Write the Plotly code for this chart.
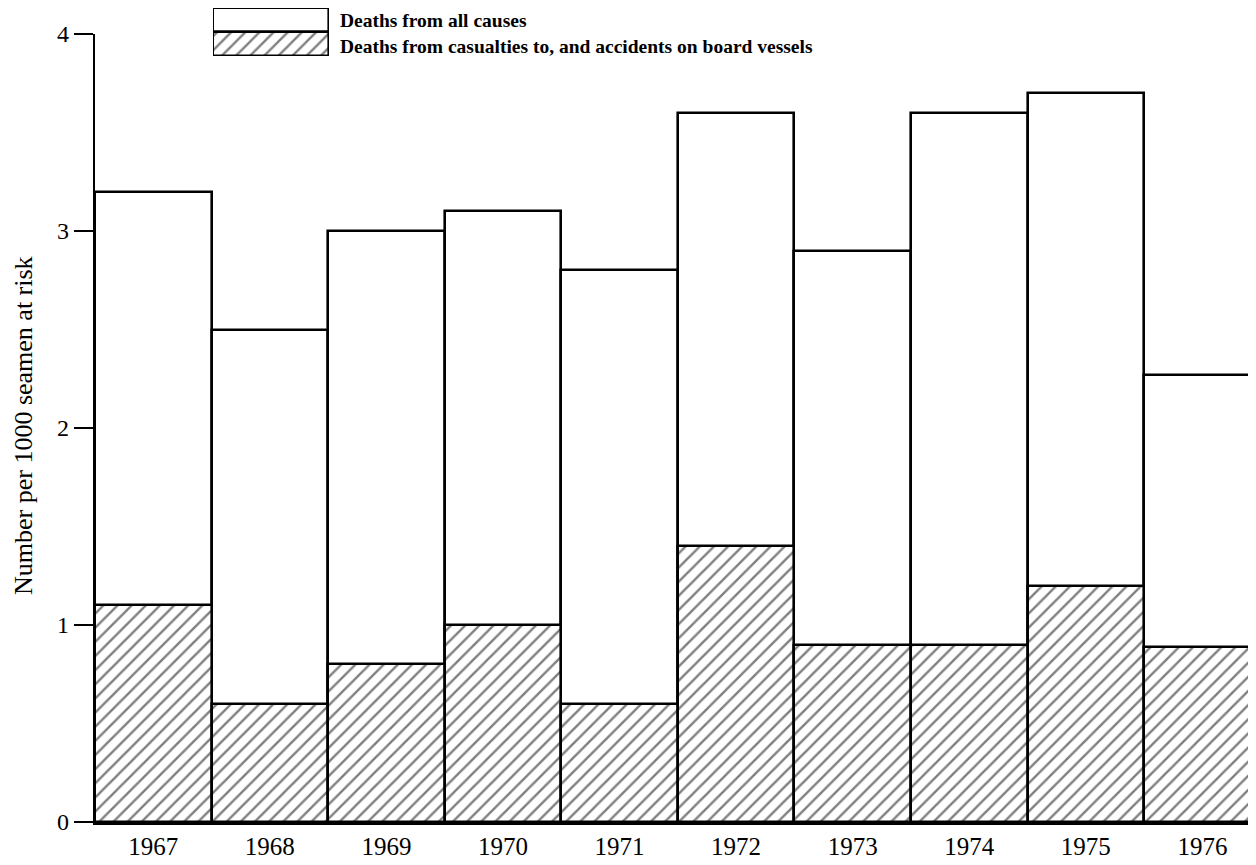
import plotly.graph_objects as go

years = ["1967", "1968", "1969", "1970", "1971", "1972", "1973", "1974", "1975", "1976"]
all_causes = [3.2, 2.5, 3.0, 3.1, 2.8, 3.6, 2.9, 3.6, 3.7, 2.27]
casualties = [1.1, 0.6, 0.8, 1.0, 0.6, 1.4, 0.9, 0.9, 1.2, 0.89]
y_ticks = [0, 1, 2, 3, 4]
legend_labels = ["Deaths from all causes",
                 "Deaths from casualties to, and accidents on board vessels"]

SERIF = "Liberation Serif, Times New Roman, serif"
hatch = dict(shape="/", fgcolor="black", bgcolor="white", size=10, solidity=0.24)
LW = 2.6

fig = go.Figure()
fig.add_trace(go.Bar(
    x=years, y=all_causes, width=1,
    marker=dict(color="white", line=dict(color="black", width=LW)),
    showlegend=False, name=legend_labels[0]))
fig.add_trace(go.Bar(
    x=years, y=casualties, width=1,
    marker=dict(color="white", pattern=hatch, line=dict(color="black", width=LW)),
    showlegend=False, name=legend_labels[1]))

# legend boxes drawn on a small auxiliary axis
fig.add_trace(go.Bar(
    y=["all"], x=[1], orientation="h", width=1, xaxis="x2", yaxis="y2",
    marker=dict(color="white", line=dict(color="black", width=LW)), showlegend=False))
fig.add_trace(go.Bar(
    y=["cas"], x=[1], orientation="h", width=1, xaxis="x2", yaxis="y2",
    marker=dict(color="white", pattern=hatch, line=dict(color="black", width=LW)),
    showlegend=False))

OFF = 8  # page body margin
W, H = 1256 - OFF, 865 - OFF
# desired positions in page pixels
left_px, right_px, top_px, bottom_px = 95, 1256, 8, 822
ml, mr, mt, mb = left_px - OFF, 0, top_px - OFF, 865 - bottom_px
pw, ph = W - ml - mr, H - mt - mb


def px_x(x):
    return (x - left_px) / pw


def px_y(y):
    return (bottom_px - y) / ph


fig.update_layout(
    width=W, height=H,
    margin=dict(l=ml, r=mr, t=mt, b=mb, pad=0, autoexpand=False),
    showlegend=False,
    paper_bgcolor="white", plot_bgcolor="white",
    barmode="overlay", bargap=0,
    font=dict(family=SERIF, color="black"),
    xaxis=dict(
        type="category", categoryorder="array", categoryarray=years,
        range=[-0.5, 9.46], showgrid=False, zeroline=False,
        showline=True, linecolor="black", linewidth=2.5,
        ticks="", tickfont=dict(size=25, family=SERIF, color="black"),
        domain=[0, 1], fixedrange=True, automargin=False),
    yaxis=dict(
        range=[0, 4], domain=[0, px_y(34)],
        tickvals=y_ticks, ticktext=[str(t) for t in y_ticks],
        showgrid=False, zeroline=False,
        showline=True, linecolor="black", linewidth=2.2,
        ticks="outside", ticklen=19, tickwidth=2.2, tickcolor="black",
        tickfont=dict(size=24, family=SERIF, color="black"), fixedrange=True,
        automargin=False),
    xaxis2=dict(range=[0, 1], domain=[px_x(213), px_x(329)], anchor="y2",
                visible=False, fixedrange=True, automargin=False),
    yaxis2=dict(type="category", categoryorder="array", categoryarray=["cas", "all"],
                range=[-0.5, 1.5], domain=[px_y(56), px_y(8)], anchor="x2",
                visible=False, fixedrange=True, automargin=False),
    annotations=[
        dict(text="<b>" + legend_labels[0] + "</b>", xref="paper", yref="paper",
             x=px_x(338), y=px_y(20), xanchor="left", yanchor="middle",
             showarrow=False, font=dict(size=19.5, family=SERIF, color="black")),
        dict(text="<b>" + legend_labels[1] + "</b>", xref="paper", yref="paper",
             x=px_x(338), y=px_y(46), xanchor="left", yanchor="middle",
             showarrow=False, font=dict(size=19.5, family=SERIF, color="black")),
        dict(text="Number per 1000 seamen at risk", xref="paper", yref="paper",
             x=px_x(23), y=px_y(426), xanchor="center", yanchor="middle",
             textangle=-90, showarrow=False,
             font=dict(size=26, family=SERIF, color="black")),
    ],
)

fig.write_html("out.html")
